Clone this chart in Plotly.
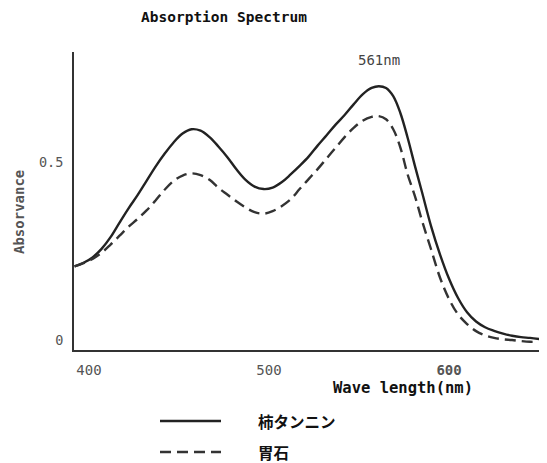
import plotly.graph_objects as go

# Solid curve: persimmon tannin (柿タンニン)
wl_tannin = [392, 397, 402, 407, 412, 417, 422, 427, 432, 437, 442, 447, 452, 457,
             462, 467, 472, 477, 482, 487, 492, 497, 502, 507, 512, 517, 522, 527,
             532, 537, 542, 547, 552, 557, 561, 565, 569, 573, 577, 581, 585, 590,
             595, 600, 605, 610, 615, 620, 625, 630, 635, 640, 645, 650]
abs_tannin = [0.207, 0.217, 0.232, 0.256, 0.289, 0.330, 0.370, 0.407, 0.447, 0.487,
              0.523, 0.555, 0.580, 0.592, 0.588, 0.570, 0.543, 0.513, 0.479, 0.450,
              0.431, 0.424, 0.428, 0.443, 0.465, 0.489, 0.515, 0.546, 0.575, 0.605,
              0.632, 0.662, 0.690, 0.708, 0.713, 0.708, 0.685, 0.637, 0.568, 0.490,
              0.415, 0.320, 0.240, 0.172, 0.118, 0.078, 0.052, 0.036, 0.026, 0.018,
              0.012, 0.008, 0.006, 0.003]

# Dashed curve: bezoar (胃石)
wl_stone = [392, 397, 402, 407, 412, 417, 422, 427, 432, 437, 442, 447, 452, 457,
            462, 467, 472, 477, 482, 487, 492, 497, 502, 507, 512, 517, 522, 527,
            532, 537, 542, 547, 552, 557, 561, 565, 569, 573, 577, 581, 585, 590,
            595, 600, 605, 610, 615, 620, 625, 630, 635, 640, 645, 649]
abs_stone = [0.207, 0.216, 0.228, 0.245, 0.268, 0.293, 0.318, 0.340, 0.364, 0.392,
             0.422, 0.447, 0.462, 0.468, 0.463, 0.450, 0.427, 0.408, 0.389, 0.372,
             0.359, 0.355, 0.362, 0.376, 0.395, 0.424, 0.452, 0.480, 0.510, 0.540,
             0.570, 0.596, 0.616, 0.627, 0.629, 0.620, 0.592, 0.540, 0.465, 0.405,
             0.335, 0.255, 0.175, 0.115, 0.072, 0.045, 0.025, 0.013, 0.006, 0.002,
             0.000, -0.003, -0.005, -0.005]

x_ticks = [400, 500, 600]
x_tick_text = ["400", "500", "<b>600</b>"]
y_ticks = [0, 0.5]
y_tick_text = ["0", "0.5"]

names = ["柿タンニン", "胃石"]
peak_label = "561nm"
peak_nm = 561

MONO = "DejaVu Sans Mono"
CJK = "Noto Sans CJK JP"

# The page body adds an 8px margin, so the figure is laid out in page pixels minus 8.
OFF = 8
W, H = 547 - OFF, 463 - OFF
L, R, T = 74 - OFF, 0, 52 - OFF
B = H - (350 - OFF)
PW, PH = W - L - R, H - T - B


def px(x):
    return (x - OFF - L) / PW


def py(y):
    return (H - B - (y - OFF)) / PH


line_styles = [dict(color="#222", width=2.4),
               dict(color="#333", width=2.4, dash="11px,6px")]

fig = go.Figure()
for xs, ys, nm, st in [(wl_tannin, abs_tannin, names[0], line_styles[0]),
                       (wl_stone, abs_stone, names[1], line_styles[1])]:
    fig.add_trace(go.Scatter(x=xs, y=ys, mode="lines", name=nm,
                             line=dict(shape="spline", smoothing=1.0, **st)))

shapes = []
annotations = [
    dict(text="<b>Absorption Spectrum</b>", xref="paper", yref="paper",
         x=px(139), y=py(17), xanchor="left", yanchor="middle", showarrow=False,
         font=dict(family=MONO, size=14.5, color="#111")),
    dict(text="<b>Wave length(nm)</b>", xref="paper", yref="paper",
         x=px(403), y=py(388), xanchor="center", yanchor="middle",
         showarrow=False, font=dict(family=MONO, size=15.5, color="#111")),
    dict(text=peak_label, xref="x", yref="paper", x=peak_nm, y=py(60),
         xanchor="center", yanchor="middle", showarrow=False,
         font=dict(family=MONO, size=14, color="#444")),
    dict(text="<b>Absorvance</b>", xref="paper", yref="paper", x=px(19), y=py(212),
         xanchor="center", yanchor="middle", textangle=-90, showarrow=False,
         font=dict(family=MONO, size=14, color="#555")),
]
legend_rows = [421, 452]
for i, nm in enumerate(names):
    yy = py(legend_rows[i])
    shapes.append(dict(type="line", xref="paper", yref="paper",
                       x0=px(160), x1=px(221), y0=yy, y1=yy, line=line_styles[i]))
    annotations.append(dict(text=f"<b>{nm}</b>", xref="paper", yref="paper",
                            x=px(257), y=yy, xanchor="left", yanchor="middle",
                            showarrow=False, borderpad=0,
                            font=dict(family=CJK, size=15.5, color="#111")))

fig.update_layout(
    width=W, height=H,
    margin=dict(l=L, r=R, t=T, b=B, autoexpand=False),
    paper_bgcolor="white", plot_bgcolor="white",
    showlegend=False,
    xaxis=dict(range=[391.7, 654.4], showline=True, linewidth=2, linecolor="#333",
               showgrid=False, zeroline=False, ticks="", tickvals=x_ticks,
               ticktext=x_tick_text, ticklabelstandoff=6, automargin=False,
               tickfont=dict(family=MONO, size=14, color="#555")),
    yaxis=dict(range=[-0.028, 0.809], showline=True, linewidth=2, linecolor="#333",
               showgrid=False, zeroline=False, ticks="", tickvals=y_ticks,
               ticktext=y_tick_text, ticklabelstandoff=6, automargin=False,
               tickfont=dict(family=MONO, size=13.5, color="#555")),
    shapes=shapes,
    annotations=annotations,
)

fig.write_html("out.html")
